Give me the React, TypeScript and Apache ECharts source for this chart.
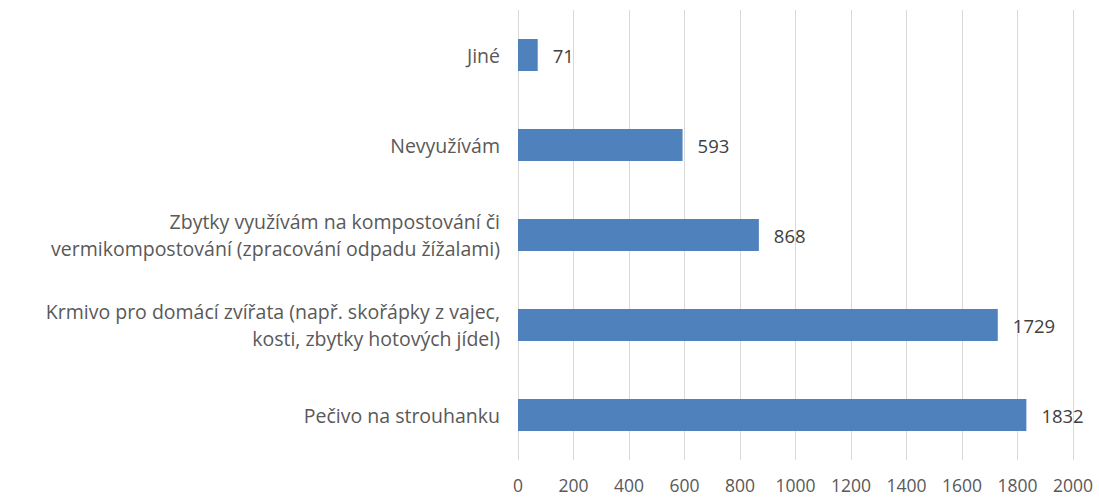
import React, { useEffect, useRef } from "react";
import * as echarts from "echarts";

const categories = [
  "Jiné",
  "Nevyužívám",
  "Zbytky využívám na kompostování či\nvermikompostování (zpracování odpadu žížalami)",
  "Krmivo pro domácí zvířata (např. skořápky z vajec,\nkosti, zbytky hotových jídel)",
  "Pečivo na strouhanku",
];
const values = [71, 593, 868, 1729, 1832];
const xMin = 0;
const xMax = 2000;
const xInterval = 200;

const FONT = "Open Sans";
const TEXT = "#595959";

export default function App() {
  const ref = useRef<HTMLDivElement>(null);
  useEffect(() => {
    if (!ref.current) return;
    const chart = echarts.init(ref.current, undefined, { renderer: "svg" });
    chart.setOption({
      animation: false,
      backgroundColor: "#ffffff",
      grid: { left: 518, right: 26, top: 10, bottom: 39, containLabel: false },
      xAxis: {
        type: "value",
        min: xMin,
        max: xMax,
        interval: xInterval,
        axisLine: { show: false },
        axisTick: { show: false },
        splitLine: { show: true, lineStyle: { color: "#d9d9d9", width: 1 } },
        axisLabel: {
          color: TEXT,
          fontFamily: FONT,
          fontSize: 17.5,
          margin: 16,
          formatter: (v: number) => String(v),
        },
      },
      yAxis: {
        type: "category",
        data: categories,
        inverse: true,
        axisLine: { show: false },
        axisTick: { show: false },
        axisLabel: {
          color: TEXT,
          fontFamily: FONT,
          fontSize: 19.5,
          margin: 18,
          lineHeight: 27,
          align: "right",
        },
      },
      series: [
        {
          type: "bar",
          data: values,
          barWidth: 32,
          itemStyle: { color: "#4f81bd" },
          label: {
            show: true,
            position: "right",
            distance: 15,
            color: "#404040",
            fontFamily: FONT,
            fontSize: 18.5,
          },
        },
      ],
    });
    return () => chart.dispose();
  }, []);
  return <div ref={ref} style={{ width: 1099, height: 499, position: "absolute", left: 0, top: 0 }} />;
}
